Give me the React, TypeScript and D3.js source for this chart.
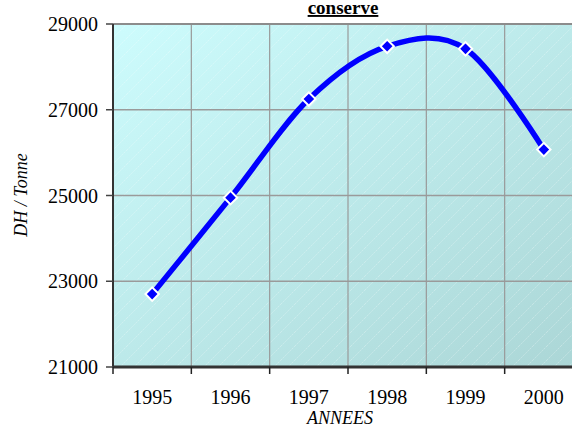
import React from "react";
import * as d3 from "d3";

// Price of canned product, DH per tonne
const years = ["1995", "1996", "1997", "1998", "1999", "2000"];
const prices = [22700, 24950, 27250, 28480, 28420, 26070];
const yTicks = [21000, 23000, 25000, 27000, 29000];

const SERIF = "Liberation Serif";
const width = 572;
const height = 430;
const margin = { top: 24, right: -11, bottom: 63, left: 113 };
const innerWidth = width - margin.left - margin.right;
const innerHeight = height - margin.top - margin.bottom;

const App: React.FC = () => {
  const xScale = d3.scaleBand<string>().domain(years).range([0, innerWidth]);
  const yScale = d3.scaleLinear().domain([21000, 29000]).range([innerHeight, 0]);
  const cx = (i: number) => (xScale(years[i]) as number) + xScale.bandwidth() / 2;

  const linePath =
    d3
      .line<number>()
      .x((_, i) => cx(i))
      .y((d) => yScale(d))
      .curve(d3.curveCatmullRom.alpha(0))(prices) || "";
  const diamond = d3.symbol().type(d3.symbolSquare).size(90)() || "";

  return (
    <div style={{ position: "absolute", left: 0, top: 0, width, height, overflow: "hidden", background: "#fff" }}>
      <svg width={width} height={height} style={{ display: "block", fontFamily: SERIF }}>
        <defs>
          <linearGradient id="bg-gradient" x1="0%" y1="0%" x2="100%" y2="100%">
            <stop offset="0%" stopColor="#cdfcfd" />
            <stop offset="100%" stopColor="#abd6d6" />
          </linearGradient>
          {/* faint diagonal hatch */}
          <pattern id="hatch" patternUnits="userSpaceOnUse" width={14} height={14}>
            <path d="M0,14 L14,0" stroke="#ffffff" strokeOpacity={0.35} strokeWidth={0.8} strokeDasharray="2,1" />
          </pattern>
        </defs>

        <g transform={`translate(${margin.left},${margin.top})`}>
          <rect width={innerWidth} height={innerHeight} fill="url(#bg-gradient)" />
          <rect width={innerWidth} height={innerHeight} fill="url(#hatch)" />

          {/* horizontal grid */}
          {yTicks.map((t) => (
            <line key={"h" + t} x1={0} x2={innerWidth} y1={yScale(t)} y2={yScale(t)} stroke="#9a9a9a" strokeWidth={1.5} />
          ))}
          {/* vertical grid at category boundaries */}
          {years.slice(1).map((y) => (
            <line key={"v" + y} x1={xScale(y)} x2={xScale(y)} y1={0} y2={innerHeight} stroke="#999999" strokeWidth={1.2} />
          ))}

          {/* top border */}
          <line x1={0} x2={innerWidth} y1={0} y2={0} stroke="#8c8c8c" strokeWidth={2} />

          {/* Y axis */}
          <line x1={0} x2={0} y1={0} y2={innerHeight} stroke="#333333" strokeWidth={2} />
          {yTicks.map((t) => (
            <g key={"yt" + t} transform={`translate(0,${yScale(t)})`}>
              <line x1={-7} x2={0} stroke="#444444" strokeWidth={1.5} />
              <text x={-15} dy="0.35em" textAnchor="end" fontSize={20} style={{ fontFamily: SERIF }} fill="#000">
                {t}
              </text>
            </g>
          ))}

          {/* X axis */}
          <line x1={0} x2={innerWidth} y1={innerHeight} y2={innerHeight} stroke="#333333" strokeWidth={3} />
          {years.map((y) => (
            <line
              key={"xt" + y}
              x1={xScale(y)}
              x2={xScale(y)}
              y1={innerHeight}
              y2={innerHeight + 7}
              stroke="#222222"
              strokeWidth={1.5}
            />
          ))}
          {years.map((y, i) => (
            <text
              key={"xl" + y}
              x={cx(i)}
              y={innerHeight + 37}
              textAnchor="middle"
              fontSize={20}
              style={{ fontFamily: SERIF }}
              fill="#000"
            >
              {y}
            </text>
          ))}

          {/* smoothed line */}
          <path d={linePath} fill="none" stroke="#0000ff" strokeWidth={5.5} strokeLinejoin="round" />

          {/* diamond markers */}
          {prices.map((p, i) => (
            <path
              key={"m" + i}
              d={diamond}
              transform={`translate(${cx(i)},${yScale(p)}) rotate(45)`}
              fill="#0000ff"
              stroke="#ffffff"
              strokeWidth={2}
            />
          ))}
        </g>

        {/* title (first line is cut off above the frame) */}
        <text
          x={343}
          y={14}
          textAnchor="middle"
          fontSize={19}
          fontWeight="bold"
          textDecoration="underline"
          style={{ fontFamily: SERIF }}
        >
          conserve
        </text>

        {/* axis titles */}
        <text x={340} y={424} textAnchor="middle" fontSize={18} fontStyle="italic" style={{ fontFamily: SERIF }}>
          ANNEES
        </text>
        <text
          transform="translate(27,195) rotate(-90)"
          textAnchor="middle"
          fontSize={18}
          fontStyle="italic"
          style={{ fontFamily: SERIF }}
        >
          DH / Tonne
        </text>
      </svg>
    </div>
  );
};

export default App;
